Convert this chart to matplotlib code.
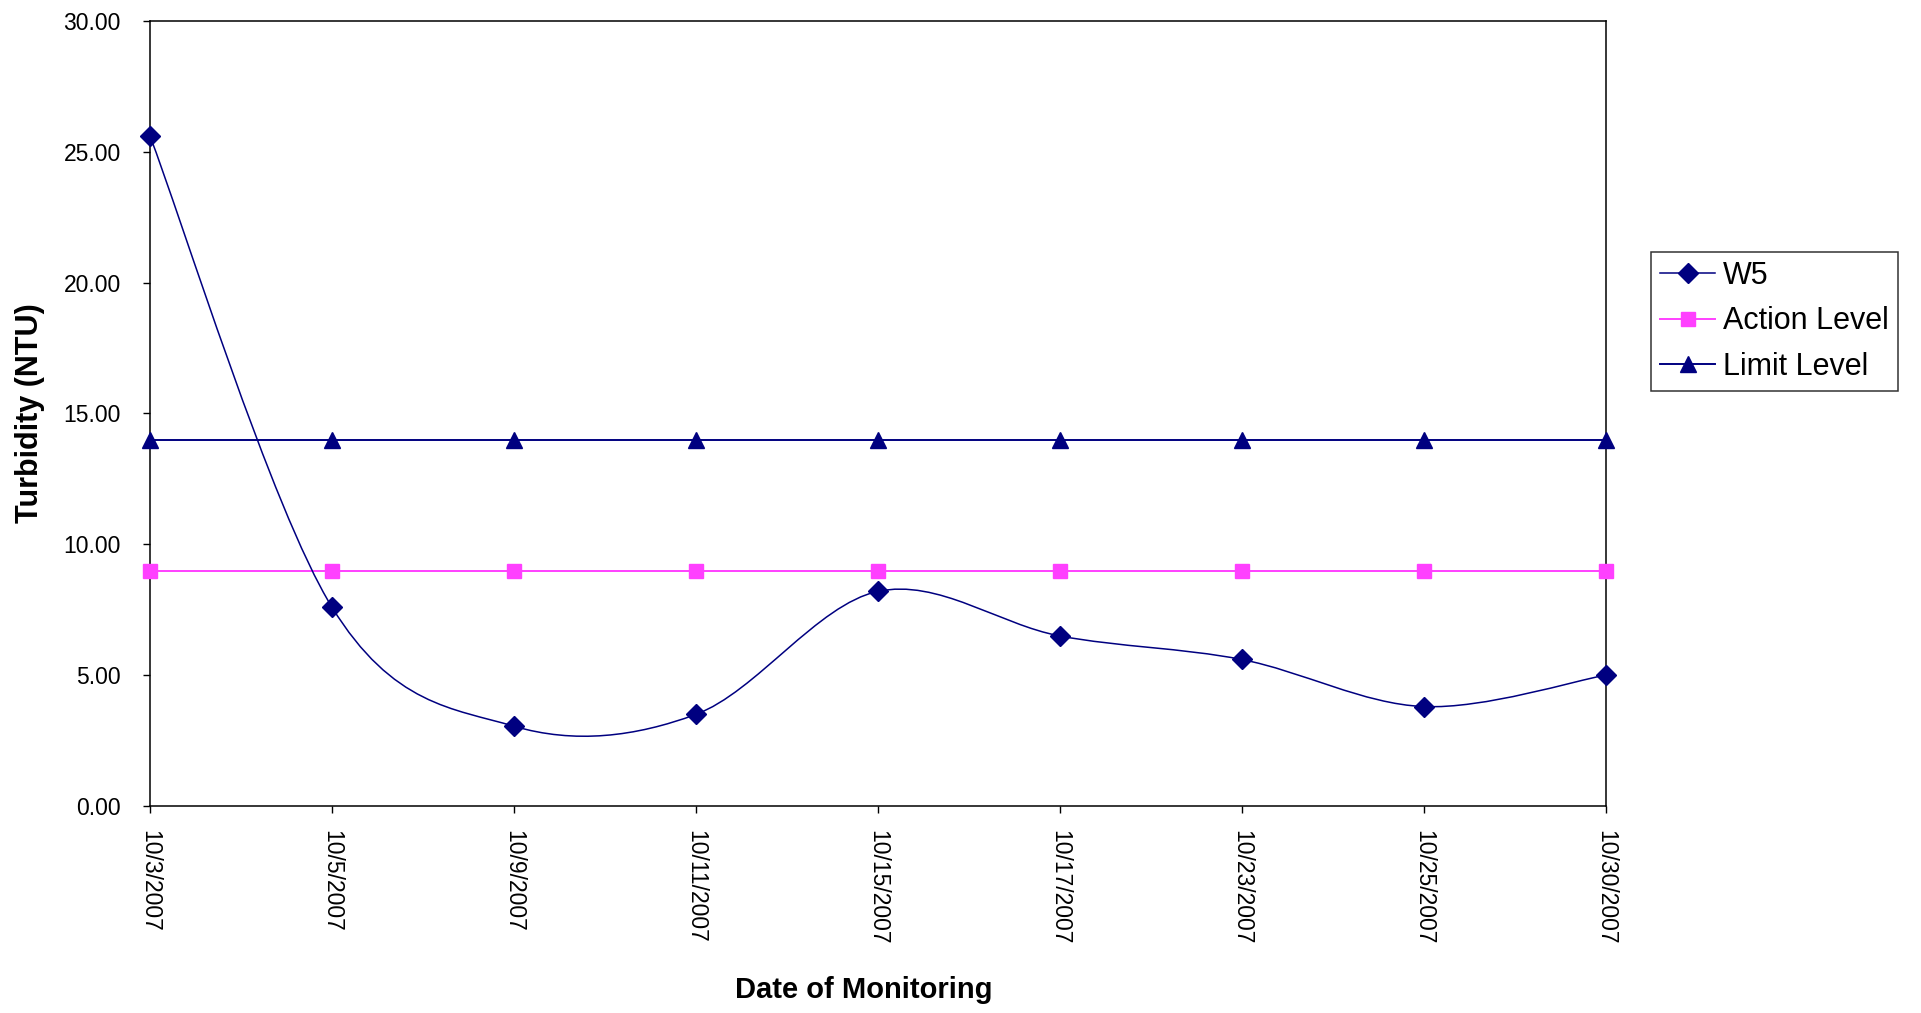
import numpy as np
import matplotlib.pyplot as plt
from matplotlib.path import Path
from matplotlib.patches import PathPatch
from matplotlib.lines import Line2D

plt.rcParams['font.family'] = ['Liberation Sans', 'DejaVu Sans']

# Monitoring dates (category axis) and turbidity readings
dates = ['10/3/2007', '10/5/2007', '10/9/2007', '10/11/2007', '10/15/2007',
         '10/17/2007', '10/23/2007', '10/25/2007', '10/30/2007']
w5 = [25.6, 7.6, 3.05, 3.5, 8.2, 6.5, 5.6, 3.8, 5.0]
action_level = [9.0] * len(dates)
limit_level = [14.0] * len(dates)

navy = '#000080'
pink = '#FF40FF'

fig = plt.figure(figsize=(19.21, 10.13), dpi=100)
ax = fig.add_axes([150 / 1921, 1 - 806 / 1013, 1455.5 / 1921, 785 / 1013])

x = np.arange(len(dates))

# limit and action lines
ax.plot(x, limit_level, color=navy, lw=1.4, marker='^', ms=11, mfc=navy, mec=navy, clip_on=False, zorder=3)
ax.plot(x, action_level, color=pink, lw=1.4, marker='s', ms=9.5, mfc=pink, mec=pink, clip_on=False, zorder=3)

# W5 drawn as a smoothed curve (bezier through the points, like Excel's smoothed line)
pts = np.column_stack([x, w5]).astype(float)
verts = [tuple(pts[0])]
codes = [Path.MOVETO]
n = len(pts)
for i in range(n - 1):
    p_prev = pts[i - 1] if i > 0 else pts[i]
    p_next2 = pts[i + 2] if i + 2 < n else pts[i + 1]
    c1 = pts[i] + (pts[i + 1] - p_prev) / 6
    c2 = pts[i + 1] - (p_next2 - pts[i]) / 6
    verts += [tuple(c1), tuple(c2), tuple(pts[i + 1])]
    codes += [Path.CURVE4] * 3
ax.add_patch(PathPatch(Path(verts, codes), fill=False, edgecolor=navy, lw=1.1, zorder=4))
ax.plot(x, w5, ls='none', marker='D', ms=10, mfc=navy, mec=navy, clip_on=False, zorder=5)

ax.set_xlim(0, len(dates) - 1)
ax.set_ylim(0, 30)
ax.set_yticks(np.arange(0, 31, 5))
ax.set_yticklabels([f'{v:.2f}' for v in np.arange(0, 31, 5)], fontsize=16.5)
ax.set_xticks(x)
ax.set_xticklabels(dates, rotation=-90, fontsize=16.5, ha='center', va='top')
ax.tick_params(axis='y', direction='out', length=5, width=1, pad=16)
ax.tick_params(axis='x', direction='out', length=5, width=1, pad=12)
for s in ax.spines.values():
    s.set_linewidth(1.1)
    s.set_color('black')

fig.text(30 / 1921, 1 - 413 / 1013, 'Turbidity (NTU)', rotation=90, fontsize=22,
         fontweight='bold', ha='center', va='center')
fig.text(864 / 1921, 1 - 990 / 1013, 'Date of Monitoring', fontsize=21,
         fontweight='bold', ha='center', va='center')

handles = [
    Line2D([], [], color=navy, lw=1.1, marker='D', ms=10, mfc=navy, mec=navy),
    Line2D([], [], color=pink, lw=1.4, marker='s', ms=9.5, mfc=pink, mec=pink),
    Line2D([], [], color=navy, lw=1.4, marker='^', ms=11, mfc=navy, mec=navy),
]
leg = fig.legend(handles, ['W5', 'Action Level', 'Limit Level'], loc='upper left',
                 bbox_to_anchor=(1651 / 1921, 1 - 252 / 1013), fontsize=22,
                 frameon=True, fancybox=False, edgecolor='black', borderaxespad=0,
                 handlelength=1.8, handletextpad=0.25, labelspacing=0.5, borderpad=0.3)
leg.get_frame().set_linewidth(1.1)

fig.savefig('out.png', dpi=100)
